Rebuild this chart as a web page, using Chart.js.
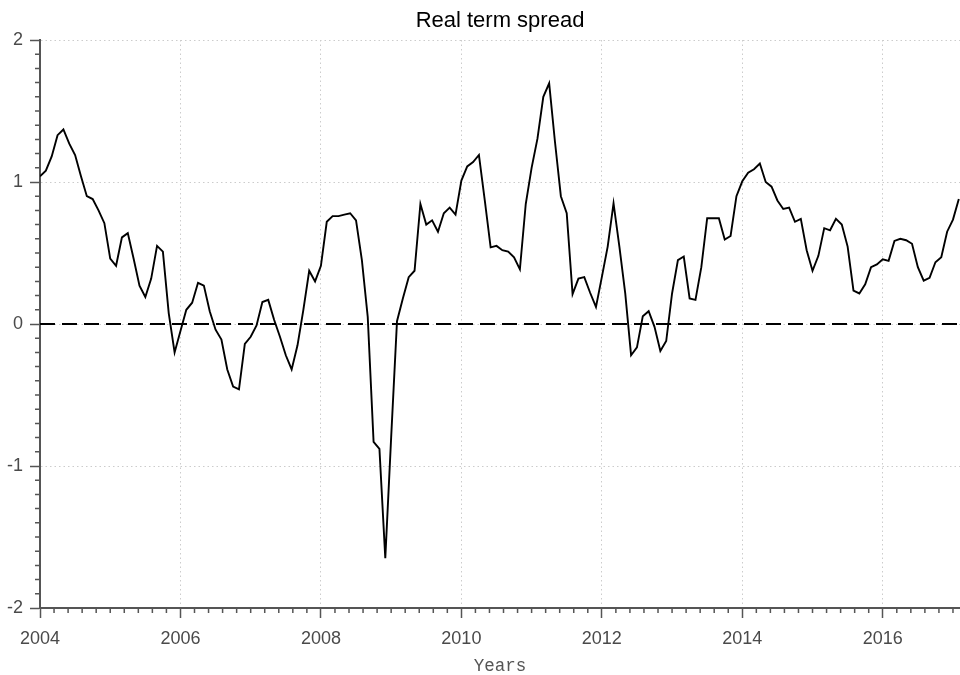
<!DOCTYPE html>
<html>
<head>
<meta charset="utf-8">
<script src="https://cdn.jsdelivr.net/npm/chart.js@4/dist/chart.umd.min.js"></script>
<style>
  html, body { margin: 0; padding: 0; background: #ffffff; }
  #wrap { width: 960px; height: 675px; }
</style>
</head>
<body>
<div id="wrap"><canvas id="c" width="960" height="675"></canvas></div>
<script>
// ---- data ----
const startYear = 2004;          // first observation: January 2004, monthly series
const monthsPerYear = 12;
const spreadValues = [
  1.04, 1.08, 1.18, 1.33, 1.37, 1.27, 1.19, 1.04, 0.90, 0.88, 0.80, 0.71,
  0.46, 0.41, 0.61, 0.64, 0.46, 0.27, 0.19, 0.32, 0.55, 0.51, 0.075, -0.20,
  -0.05, 0.10, 0.15, 0.29, 0.27, 0.09, -0.04, -0.11, -0.32, -0.44, -0.46, -0.14,
  -0.09, -0.01, 0.155, 0.17, 0.03, -0.09, -0.22, -0.32, -0.15, 0.10, 0.375, 0.30,
  0.41, 0.72, 0.76, 0.76, 0.77, 0.78, 0.73, 0.45, 0.05, -0.83, -0.88, -1.65,
  -0.80, 0.02, 0.18, 0.33, 0.375, 0.845, 0.70, 0.73, 0.65, 0.78, 0.82, 0.77,
  1.01, 1.11, 1.14, 1.19, 0.87, 0.54, 0.55, 0.52, 0.51, 0.47, 0.385, 0.845,
  1.10, 1.305, 1.60, 1.695, 1.28, 0.90, 0.78, 0.21, 0.32, 0.33, 0.22, 0.12,
  0.33, 0.545, 0.85, 0.545, 0.215, -0.22, -0.165, 0.055, 0.09, -0.02, -0.19, -0.12,
  0.215, 0.45, 0.475, 0.18, 0.17, 0.40, 0.745, 0.745, 0.745, 0.595, 0.62, 0.90,
  1.005, 1.065, 1.09, 1.13, 1.00, 0.967, 0.87, 0.81, 0.82, 0.72, 0.74, 0.52,
  0.375, 0.48, 0.675, 0.66, 0.74, 0.70, 0.545, 0.235, 0.215, 0.28, 0.40, 0.42,
  0.455, 0.445, 0.585, 0.60, 0.59, 0.565, 0.40, 0.305, 0.325, 0.435, 0.47, 0.65,
  0.735, 0.88
];
const referenceLevel = 0;
const xMin = 2004, xMax = 2017.1;
const yMin = -2, yMax = 2;
const xTickValues = [2004, 2006, 2008, 2010, 2012, 2014, 2016];
const xTickLabels = ['2004', '2006', '2008', '2010', '2012', '2014', '2016'];
const yTickValues = [-2, -1, 0, 1, 2];
const yTickLabels = ['-2', '-1', '0', '1', '2'];
const minorPerMajor = 10;
const chartTitle = 'Real term spread';
const xAxisTitle = 'Years';

// ---- build ----
const seriesPoints = spreadValues.map((v, i) => ({ x: startYear + i / monthsPerYear, y: v }));
const refPoints = [{ x: xMin, y: referenceLevel }, { x: xMax, y: referenceLevel }];

const axisColor = '#555555';
const labelColor = '#4a4a4a';
const gridColor = '#cccccc';

const minorTicks = {
  id: 'minorTicks',
  afterDraw(chart) {
    const ctx = chart.ctx;
    const xs = chart.scales.x, ys = chart.scales.y;
    const area = chart.chartArea;
    ctx.save();
    ctx.strokeStyle = axisColor;
    ctx.lineWidth = 1.5;
    ctx.beginPath();
    const yStep = (yTickValues[1] - yTickValues[0]) / minorPerMajor;
    for (let i = 0; ; i++) {
      const v = yMin + i * yStep;
      if (v > yMax + 1e-9) break;
      if (i % minorPerMajor === 0) continue;
      const p = ys.getPixelForValue(v);
      ctx.moveTo(area.left - 5, p);
      ctx.lineTo(area.left, p);
    }
    const xStep = (xTickValues[1] - xTickValues[0]) / minorPerMajor;
    for (let i = 0; ; i++) {
      const v = xTickValues[0] + i * xStep;
      if (v > xMax + 1e-9) break;
      if (i % minorPerMajor === 0) continue;
      const p = xs.getPixelForValue(v);
      ctx.moveTo(p, area.bottom);
      ctx.lineTo(p, area.bottom + 5);
    }
    ctx.stroke();
    ctx.restore();
  }
};

new Chart(document.getElementById('c'), {
  type: 'line',
  data: {
    datasets: [
      {
        label: chartTitle,
        data: seriesPoints,
        borderColor: '#000000',
        borderWidth: 1.9,
        pointRadius: 0,
        tension: 0,
        fill: false
      },
      {
        label: 'zero',
        data: refPoints,
        borderColor: '#000000',
        borderWidth: 1.9,
        borderDash: [15, 7],
        pointRadius: 0,
        tension: 0,
        fill: false
      }
    ]
  },
  options: {
    responsive: false,
    devicePixelRatio: 1,
    animation: false,
    events: [],
    layout: { padding: 0 },
    plugins: {
      legend: { display: false },
      tooltip: { enabled: false },
      title: {
        display: true,
        fullSize: false,
        text: chartTitle,
        color: '#000000',
        font: { family: "'Liberation Sans', Arial, sans-serif", size: 22, weight: 'normal' },
        padding: { top: 7.6, bottom: 6 }
      }
    },
    scales: {
      x: {
        type: 'linear',
        min: xMin,
        max: xMax,
        afterBuildTicks(scale) { scale.ticks = xTickValues.map(v => ({ value: v })); },
        afterFit(scale) { scale.height = 67; },
        ticks: {
          autoSkip: false,
          maxRotation: 0,
          padding: 10,
          color: labelColor,
          font: { family: "'Liberation Sans', Arial, sans-serif", size: 18 },
          callback(value) { const i = xTickValues.indexOf(value); return i >= 0 ? xTickLabels[i] : ''; }
        },
        grid: {
          color: gridColor,
          lineWidth: 1,
          drawTicks: true,
          tickLength: 10,
          tickColor: axisColor,
          tickWidth: 1.5,
          tickBorderDash: []
        },
        border: { display: true, color: axisColor, width: 2, dash: [1.5, 3] },
        title: {
          display: true,
          text: xAxisTitle,
          color: '#555555',
          font: { family: "'Liberation Mono', 'DejaVu Sans Mono', monospace", size: 17.5, lineHeight: 1 },
          padding: { top: 0, bottom: 0 }
        }
      },
      y: {
        type: 'linear',
        min: yMin,
        max: yMax,
        afterBuildTicks(scale) { scale.ticks = yTickValues.map(v => ({ value: v })); },
        afterFit(scale) { scale.width = 40; },
        ticks: {
          padding: 7,
          color: labelColor,
          font: { family: "'Liberation Sans', Arial, sans-serif", size: 18 },
          callback(value) { const i = yTickValues.indexOf(value); return i >= 0 ? yTickLabels[i] : ''; }
        },
        grid: {
          color: gridColor,
          lineWidth: 1,
          drawTicks: true,
          tickLength: 10,
          tickColor: axisColor,
          tickWidth: 1.5,
          tickBorderDash: []
        },
        border: { display: true, color: axisColor, width: 2, dash: [1.5, 3] }
      }
    }
  },
  plugins: [minorTicks]
});
</script>
</body>
</html>
